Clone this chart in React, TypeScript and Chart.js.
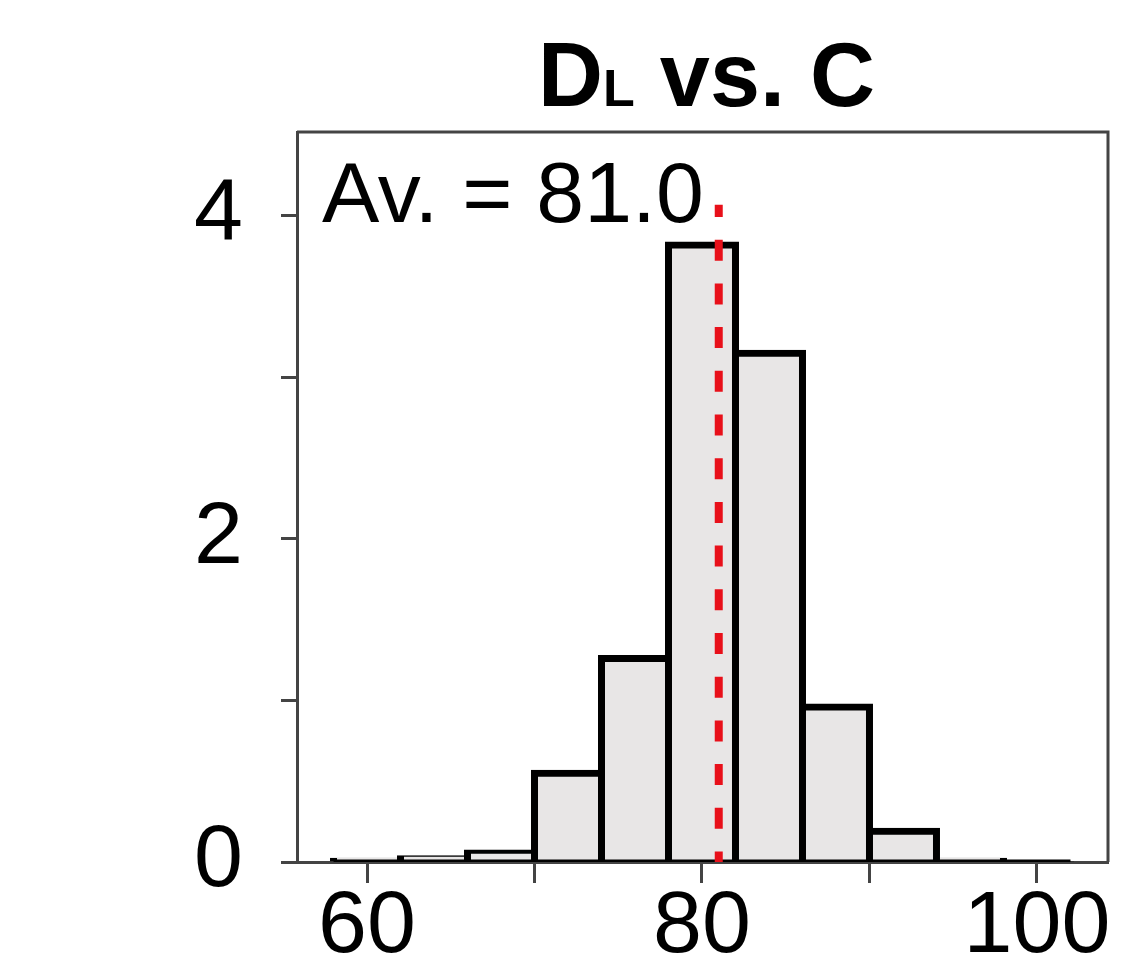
import React, { useEffect, useRef } from 'react';
import { Chart, registerables } from 'chart.js';

Chart.register(...registerables);

// ---- data ----
const binCenters = [60, 64, 68, 72, 76, 80, 84, 88, 92, 96, 100];
const density = [0.004, 0.02, 0.055, 0.55, 1.26, 3.82, 3.15, 0.96, 0.19, 0.004, 0.003];
const baselineEdges = [58, 102];
const average = 81.0;
const averageLineTop = 4.07;
const xTicks = [60, 70, 80, 90, 100];
const xTickLabels = ['60', '', '80', '', '100'];
const yTicks = [0, 1, 2, 3, 4];
const yTickLabels = ['0', '', '2', '', '4'];
const titleMain = 'D';
const titleSub = 'L';
const titleRest = ' vs. C';
const averageLabel = 'Av. = 81.0';

const FONT = '"Liberation Sans", Arial, Helvetica, sans-serif';
const FRAME = '#444444';

const decorPlugin = {
  id: 'decor',
  beforeDatasetsDraw(chart: any) {
    const { ctx, chartArea } = chart;
    ctx.save();
    ctx.strokeStyle = FRAME;
    ctx.lineWidth = 3;
    ctx.beginPath();
    ctx.moveTo(chartArea.left, chartArea.top);
    ctx.lineTo(chartArea.right, chartArea.top);
    ctx.lineTo(chartArea.right, chartArea.bottom);
    ctx.stroke();
    ctx.restore();
  },
  afterDraw(chart: any) {
    const { ctx, chartArea } = chart;
    ctx.save();
    ctx.fillStyle = '#000';
    ctx.textBaseline = 'alphabetic';
    // title with subscript
    const bigFont = `bold 90px ${FONT}`;
    const smallFont = `bold 52px ${FONT}`;
    ctx.font = bigFont;
    const wMain = ctx.measureText(titleMain).width;
    const wRest = ctx.measureText(titleRest).width;
    ctx.font = smallFont;
    const wSub = ctx.measureText(titleSub).width;
    const total = wMain + wSub + wRest;
    const cx = (chartArea.left + chartArea.right) / 2 + 4;
    let x = cx - total / 2;
    const baseY = 106;
    ctx.font = bigFont;
    ctx.fillText(titleMain, x, baseY);
    x += wMain;
    ctx.font = smallFont;
    ctx.fillText(titleSub, x, baseY);
    x += wSub;
    ctx.font = bigFont;
    ctx.fillText(titleRest, x, baseY);
    // average annotation
    ctx.font = `86px ${FONT}`;
    ctx.fillText(averageLabel, chartArea.left + 25, chartArea.top + 90);
    ctx.restore();
  },
};

export default function App() {
  const canvasRef = useRef<HTMLCanvasElement | null>(null);

  useEffect(() => {
    const canvas = canvasRef.current;
    if (!canvas) return;
    const chart = new Chart(canvas, {
      type: 'bar',
      data: {
        datasets: [
          {
            type: 'line',
            label: 'average',
            data: [
              { x: average, y: averageLineTop },
              { x: average, y: 0 },
            ],
            borderColor: '#e8101a',
            borderWidth: 8,
            borderDash: [21, 22.7],
            borderDashOffset: 8.7,
            borderCapStyle: 'butt',
            pointRadius: 0,
            order: 0,
          } as any,
          {
            type: 'line',
            label: 'baseline',
            data: baselineEdges.map((x) => ({ x, y: 0 })),
            borderColor: '#000',
            borderWidth: 5,
            pointRadius: 0,
            order: 1,
          } as any,
          {
            type: 'bar',
            label: 'density',
            data: binCenters.map((x, i) => ({ x, y: density[i] })),
            backgroundColor: '#e8e6e6',
            borderColor: '#000',
            borderWidth: 7,
            inflateAmount: 3.5,
            borderSkipped: 'start',
            barPercentage: 1,
            categoryPercentage: 1,
            order: 2,
          } as any,
        ],
      },
      options: {
        animation: false,
        responsive: true,
        maintainAspectRatio: false,
        layout: { padding: { top: 132, right: 15, left: 0, bottom: 0 } },
        plugins: {
          legend: { display: false },
          tooltip: { enabled: false },
          title: { display: false },
        },
        scales: {
          x: {
            type: 'linear',
            min: 55.82,
            max: 104.24,
            offset: false,
            afterBuildTicks: (s: any) => {
              s.ticks = xTicks.map((v) => ({ value: v }));
            },
            afterFit: (s: any) => {
              s.height = 117;
            },
            grid: {
              drawOnChartArea: false,
              drawTicks: true,
              tickLength: 21,
              tickWidth: 3,
              tickColor: FRAME,
              offset: false,
            },
            border: { display: true, color: FRAME, width: 3 },
            ticks: {
              color: '#000',
              font: { family: FONT, size: 88, lineHeight: 1 },
              padding: 1,
              maxRotation: 0,
              autoSkip: false,
              callback: (_v: any, i: number) => xTickLabels[i],
            },
          },
          y: {
            type: 'linear',
            min: 0,
            max: 4.52,
            afterBuildTicks: (s: any) => {
              s.ticks = yTicks.map((v) => ({ value: v }));
            },
            afterFit: (s: any) => {
              s.width = 297;
            },
            grid: {
              drawOnChartArea: false,
              drawTicks: true,
              tickLength: 16,
              tickWidth: 3,
              tickColor: FRAME,
            },
            border: { display: true, color: FRAME, width: 3 },
            ticks: {
              color: '#000',
              font: { family: FONT, size: 88, lineHeight: 1 },
              padding: 38,
              autoSkip: false,
              callback: (_v: any, i: number) => yTickLabels[i],
            },
          },
        },
      } as any,
      plugins: [decorPlugin],
    });
    return () => chart.destroy();
  }, []);

  return (
    <div
      style={{
        position: 'fixed',
        left: 0,
        top: 0,
        width: 1123,
        height: 979,
        background: '#fff',
      }}
    >
      <canvas ref={canvasRef} />
    </div>
  );
}
